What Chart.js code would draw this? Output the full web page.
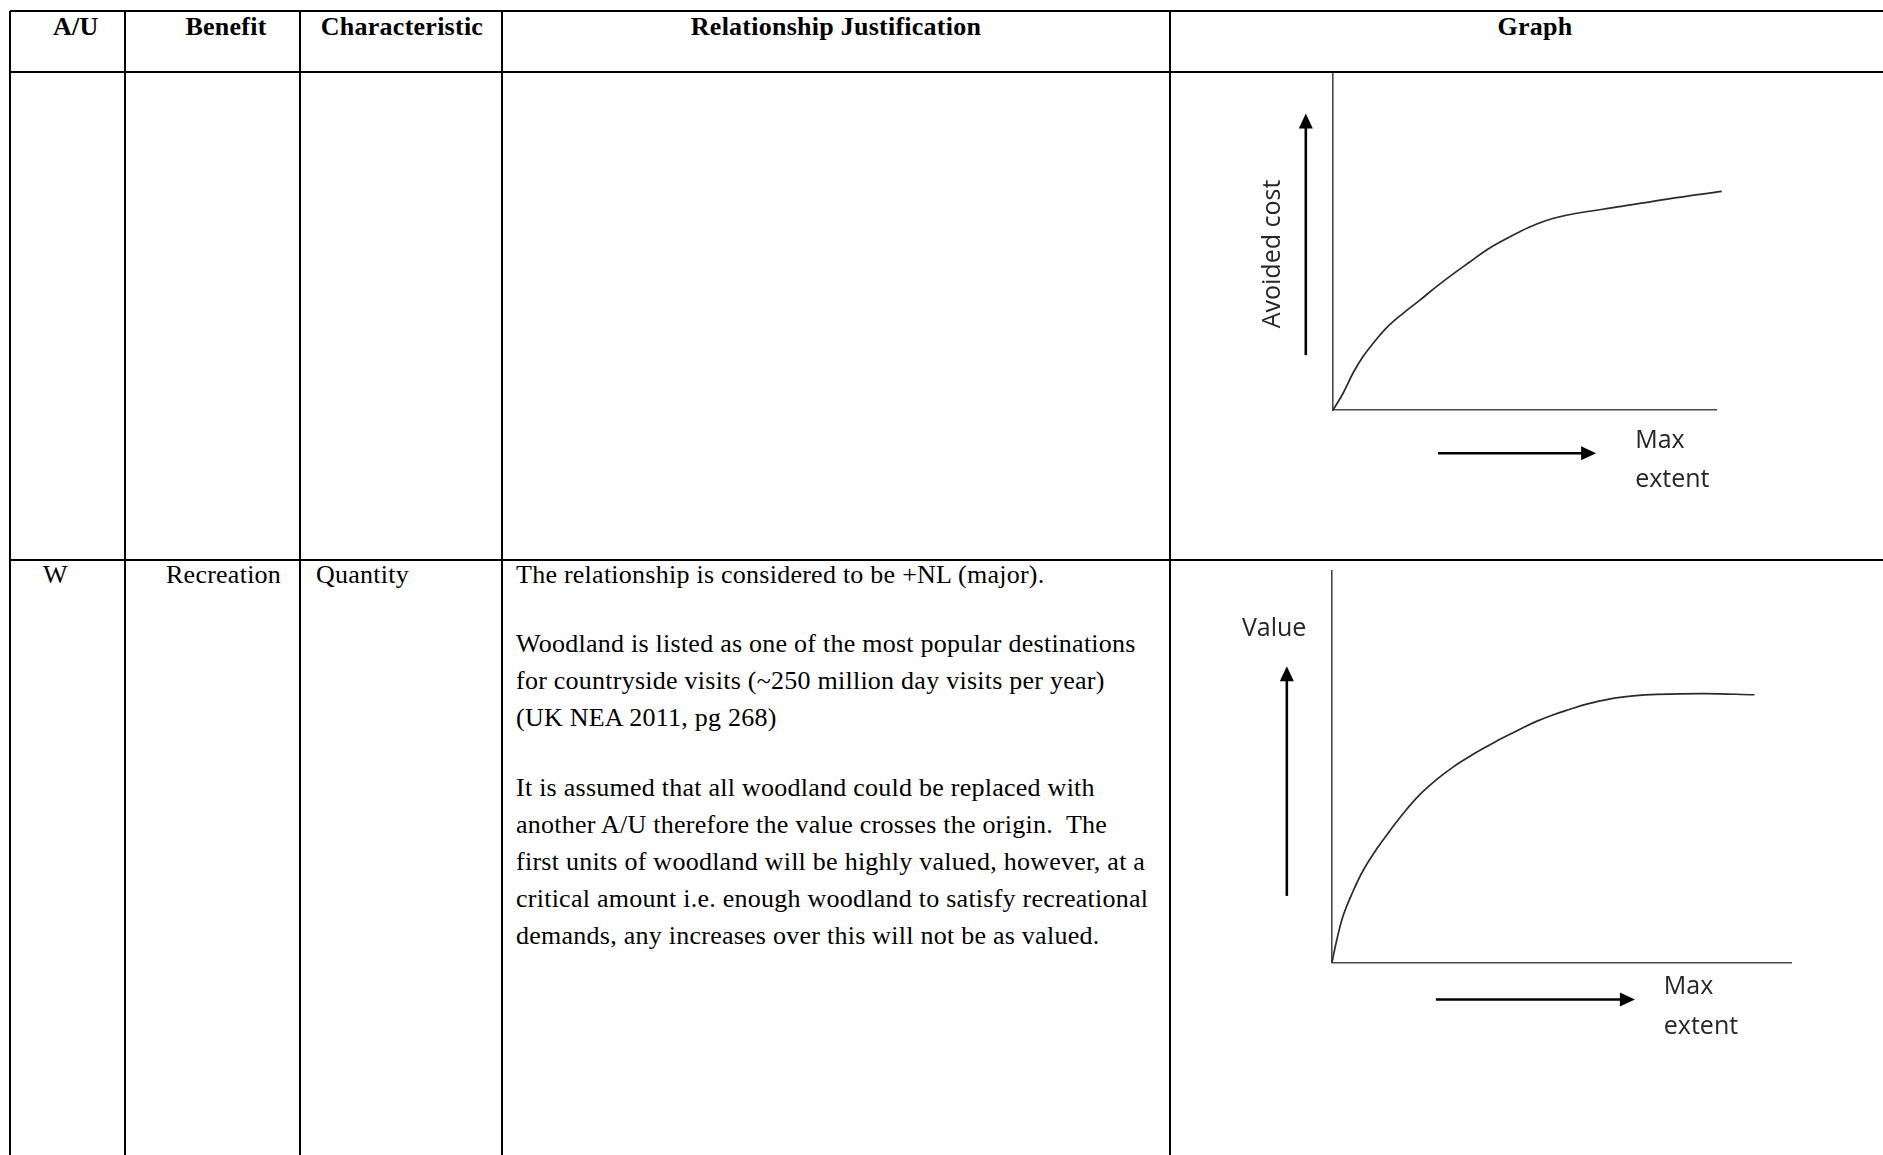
<!DOCTYPE html>
<html>
<head>
<meta charset="utf-8">
<script src="https://cdn.jsdelivr.net/npm/chart.js@4.4.0/dist/chart.umd.min.js"></script>
<style>
  body { margin: 0; width: 1883px; height: 1155px; overflow: hidden; background: #fff; position: relative;
         font-family: "Liberation Serif", "Times New Roman", serif; color: #000; }
  .hl { position: absolute; left: 10px; right: 0; height: 2px; background: #000; }
  .vl { position: absolute; top: 11px; bottom: 0; width: 2px; background: #000; }
  .th { position: absolute; top: 15.2px; font-weight: bold; font-size: 26px; line-height: 24px; letter-spacing: 0.25px; white-space: nowrap; text-align: center; }
  .td { position: absolute; font-size: 26px; line-height: 36.9px; letter-spacing: 0.25px; white-space: nowrap; }
  .graph { position: absolute; left: 1171px; }
</style>
</head>
<body>
  <!-- table grid -->
  <div class="hl" style="top:10px"></div>
  <div class="hl" style="top:71px"></div>
  <div class="hl" style="top:559px"></div>
  <div class="vl" style="left:9px"></div>
  <div class="vl" style="left:124px"></div>
  <div class="vl" style="left:299px"></div>
  <div class="vl" style="left:501px"></div>
  <div class="vl" style="left:1169px"></div>

  <!-- header -->
  <div class="th" style="left:53px">A/U</div>
  <div class="th" style="left:126px; width:200px">Benefit</div>
  <div class="th" style="left:302px; width:200px">Characteristic</div>
  <div class="th" style="left:503px; width:666px">Relationship Justification</div>
  <div class="th" style="left:1171px; width:728px">Graph</div>

  <!-- row 2 text -->
  <div class="td" style="left:43px; top:557.3px">W</div>
  <div class="td" style="left:166px; top:557.3px">Recreation</div>
  <div class="td" style="left:316px; top:557.3px">Quantity</div>
  <div class="td" style="left:516px; top:557.3px">The relationship is considered to be +NL (major).</div>
  <div class="td" style="left:516px; top:625.8px">Woodland is listed as one of the most popular destinations<br>for countryside visits (~250 million day visits per year)<br>(UK NEA 2011, pg 268)</div>
  <div class="td" style="left:516px; top:770px">It is assumed that all woodland could be replaced with<br>another A/U therefore the value crosses the origin.&nbsp; The<br>first units of woodland will be highly valued, however, at a<br>critical amount i.e. enough woodland to satisfy recreational<br>demands, any increases over this will not be as valued.</div>

  <canvas id="avoidedChart" class="graph" style="top:73px" width="712" height="487"></canvas>
  <canvas id="valueChart" class="graph" style="top:561px" width="712" height="594"></canvas>

<script>
// Graph 1: avoided cost vs extent (0-100 on both axes)
const extentAvoided = [0, 2.6, 5.2, 7.8, 10.5, 13.9, 18.3, 22.7, 27.0, 31.4, 35.8, 40.1, 44.5, 48.9, 53.2, 57.6, 63.3, 75.3, 87.3, 101.5];
const avoidedCost   = [0, 4.9, 10.9, 15.8, 19.8, 24.3, 28.7, 32.6, 36.6, 40.4, 44.0, 47.5, 50.4, 53.0, 55.2, 56.9, 58.3, 60.4, 62.6, 64.9];

// Graph 2: recreation value vs extent
const extentValue = [0, 1.0, 2.4, 4.6, 6.8, 9.7, 12.6, 15.5, 19.1, 22.8, 26.4, 30.0, 33.7, 37.3, 40.9, 44.5, 48.2, 51.8, 55.4, 60.3, 65.5, 70.7, 81.2, 91.9];
const recValue    = [0, 5.5, 11.8, 18.2, 23.5, 28.9, 33.6, 38.0, 42.8, 46.7, 49.9, 52.6, 55.1, 57.4, 59.5, 61.5, 63.2, 64.6, 65.9, 67.2, 68.0, 68.4, 68.6, 68.3];

const axisLabels = { avoidedY: 'Avoided cost', valueY: 'Value', xTop: 'Max', xBottom: 'extent' };

const toPoints = (xs, ys) => xs.map((x, i) => ({ x: x, y: ys[i] }));

// draws the loose arrows and labels that sit beside the axes
const sketchMarks = {
  id: 'sketchMarks',
  afterDraw(chart, args, opts) {
    const ctx = chart.ctx;
    const xs = chart.scales.x, ys = chart.scales.y;
    const px = v => xs.getPixelForValue(v);
    const py = v => ys.getPixelForValue(v);
    ctx.save();
    ctx.strokeStyle = '#000';
    ctx.fillStyle = '#000';
    ctx.lineWidth = 2.6;
    (opts.arrows || []).forEach(a => {
      const x1 = px(a.from[0]), y1 = py(a.from[1]);
      const x2 = px(a.to[0]), y2 = py(a.to[1]);
      const ang = Math.atan2(y2 - y1, x2 - x1);
      const head = 15, half = 7;
      ctx.beginPath();
      ctx.moveTo(x1, y1);
      ctx.lineTo(x2 - Math.cos(ang) * head * 0.8, y2 - Math.sin(ang) * head * 0.8);
      ctx.stroke();
      ctx.beginPath();
      ctx.moveTo(x2, y2);
      ctx.lineTo(x2 - Math.cos(ang) * head - Math.sin(ang) * half, y2 - Math.sin(ang) * head + Math.cos(ang) * half);
      ctx.lineTo(x2 - Math.cos(ang) * head + Math.sin(ang) * half, y2 - Math.sin(ang) * head - Math.cos(ang) * half);
      ctx.closePath();
      ctx.fill();
    });
    ctx.fillStyle = '#262626';
    ctx.font = '25px "Open Sans", sans-serif';
    ctx.textBaseline = 'alphabetic';
    (opts.labels || []).forEach(l => {
      ctx.save();
      ctx.translate(px(l.at[0]), py(l.at[1]));
      if (l.rotate) {
        ctx.rotate(-Math.PI / 2);
        ctx.textAlign = 'center';
      } else {
        ctx.textAlign = 'left';
      }
      ctx.fillText(l.text, 0, 0);
      ctx.restore();
    });
    ctx.restore();
  }
};

const makeOptions = (padding, marks) => ({
  responsive: false,
  animation: false,
  layout: { padding: padding },
  plugins: { legend: { display: false }, tooltip: { enabled: false }, sketchMarks: marks },
  scales: {
    x: {
      type: 'linear', min: 0, max: 100,
      ticks: { display: false },
      grid: { display: false, drawTicks: false },
      border: { display: true, color: '#4a4a4a', width: 1.6 }
    },
    y: {
      type: 'linear', min: 0, max: 100,
      ticks: { display: false },
      grid: { display: false, drawTicks: false },
      border: { display: true, color: '#4a4a4a', width: 1.6 }
    }
  }
});

const curveStyle = {
  borderColor: '#2a2a2a',
  borderWidth: 1.7,
  pointRadius: 0,
  fill: false,
  tension: 0.4,
  clip: false
};

new Chart(document.getElementById('avoidedChart'), {
  type: 'line',
  data: { datasets: [Object.assign({ data: toPoints(extentAvoided, avoidedCost) }, curveStyle)] },
  options: makeOptions({ left: 162, top: 0, right: 167, bottom: 150 }, {
    arrows: [
      { from: [-7.1, 16.3], to: [-7.1, 88.0] },
      { from: [27.4, -12.85], to: [68.7, -12.85] }
    ],
    labels: [
      { text: axisLabels.avoidedY, at: [-13.85, 46.3], rotate: true },
      { text: axisLabels.xTop, at: [78.9, -11.3] },
      { text: axisLabels.xBottom, at: [78.9, -22.8] }
    ]
  }),
  plugins: [sketchMarks]
});

new Chart(document.getElementById('valueChart'), {
  type: 'line',
  data: { datasets: [Object.assign({ data: toPoints(extentValue, recValue) }, curveStyle)] },
  options: makeOptions({ left: 161, top: 9.6, right: 91.4, bottom: 192.7 }, {
    arrows: [
      { from: [-9.83, 16.95], to: [-9.83, 75.6] },
      { from: [22.6, -9.5], to: [65.9, -9.5] }
    ],
    labels: [
      { text: axisLabels.valueY, at: [-19.6, 83.3] },
      { text: axisLabels.xTop, at: [72.2, -8.2] },
      { text: axisLabels.xBottom, at: [72.2, -18.3] }
    ]
  }),
  plugins: [sketchMarks]
});
</script>
</body>
</html>
